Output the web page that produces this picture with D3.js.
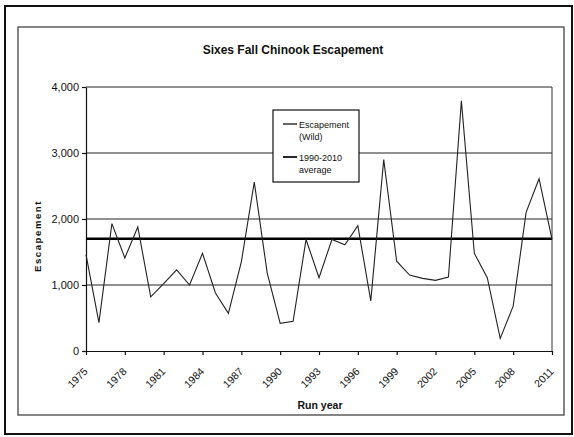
<!DOCTYPE html>
<html>
<head>
<meta charset="utf-8">
<script src="https://cdn.jsdelivr.net/npm/d3@7"></script>
<style>
  body { margin: 0; background: #fff; }
  svg { display: block; font-family: "Liberation Sans", Arial, sans-serif; }
</style>
</head>
<body>
<script>
// values
var years = [1975, 1976, 1977, 1978, 1979, 1980, 1981, 1982, 1983, 1984, 1985, 1986, 1987,
             1988, 1989, 1990, 1991, 1992, 1993, 1994, 1995, 1996, 1997, 1998, 1999, 2000,
             2001, 2002, 2003, 2004, 2005, 2006, 2007, 2008, 2009, 2010, 2011];
var escapement = [1460, 430, 1930, 1410, 1880, 820, 1020, 1230, 1000, 1480, 880, 570, 1350,
                  2560, 1180, 420, 450, 1690, 1110, 1690, 1610, 1900, 760, 2900, 1360, 1150,
                  1100, 1070, 1120, 3790, 1480, 1110, 190, 680, 2100, 2610, 1690];
var averageValue = 1700;
var averageYears = [1975, 2011];
var yTicks = [0, 1000, 2000, 3000, 4000];
var xTicks = [1975, 1978, 1981, 1984, 1987, 1990, 1993, 1996, 1999, 2002, 2005, 2008, 2011];
var legendLabels = [["Escapement", "(Wild)"], ["1990-2010", "average"]];

var width = 574, height = 437;
var plot = {left: 86, right: 552, top: 87, bottom: 351};

var svg = d3.select("body")
    .append("svg")
    .attr("width", width)
    .attr("height", height);

// outer page frame and chart frame
svg.append("rect")
    .attr("x", 5).attr("y", 6)
    .attr("width", 567).attr("height", 428)
    .attr("fill", "none")
    .attr("stroke", "#111")
    .attr("stroke-width", 2);

svg.append("rect")
    .attr("x", 18).attr("y", 27)
    .attr("width", 546).attr("height", 388)
    .attr("fill", "none")
    .attr("stroke", "#444")
    .attr("stroke-width", 1.3);

var x = d3.scaleLinear()
    .domain([years[0], years[years.length - 1]])
    .range([plot.left, plot.right]);

var y = d3.scaleLinear()
    .domain([0, 4000])
    .range([plot.bottom, plot.top]);

// gridlines
svg.append("g")
    .selectAll("line")
    .data(yTicks.filter(function(d) { return d > 0; }))
    .enter()
    .append("line")
    .attr("x1", plot.left)
    .attr("x2", plot.right)
    .attr("y1", function(d) { return y(d); })
    .attr("y2", function(d) { return y(d); })
    .attr("stroke", "#222")
    .attr("stroke-width", 1);

// right edge of plot area
svg.append("line")
    .attr("x1", plot.right).attr("x2", plot.right)
    .attr("y1", plot.top).attr("y2", plot.bottom)
    .attr("stroke", "#333")
    .attr("stroke-width", 1);

var yAxis = svg.append("g")
    .attr("transform", "translate(" + plot.left + ",0)")
    .call(d3.axisLeft(y)
        .tickValues(yTicks)
        .tickFormat(d3.format(","))
        .tickSize(4)
        .tickSizeOuter(0));

yAxis.selectAll("text")
    .attr("font-size", 11)
    .attr("fill", "#111");

var xAxis = svg.append("g")
    .attr("transform", "translate(0," + plot.bottom + ")")
    .call(d3.axisBottom(x)
        .tickValues(xTicks)
        .tickFormat(d3.format("d"))
        .tickSize(4)
        .tickSizeOuter(0));

xAxis.selectAll("text")
    .attr("font-size", 10.5)
    .attr("fill", "#111")
    .attr("text-anchor", "end")
    .attr("dy", null)
    .attr("y", 0)
    .attr("transform", function(d) {
        return "translate(2,21) rotate(-45)";
    });

svg.selectAll(".domain, .tick line")
    .attr("stroke", "#111")
    .attr("stroke-width", 1.2);

// average line
svg.append("line")
    .attr("x1", x(averageYears[0]))
    .attr("x2", x(averageYears[1]))
    .attr("y1", y(averageValue))
    .attr("y2", y(averageValue))
    .attr("stroke", "#000")
    .attr("stroke-width", 2.5);

// escapement line
var line = d3.line()
    .x(function(d, i) { return x(years[i]); })
    .y(function(d) { return y(d); });

svg.append("path")
    .datum(escapement)
    .attr("d", line)
    .attr("fill", "none")
    .attr("stroke", "#222")
    .attr("stroke-width", 1.1);

// title + axis titles
svg.append("text")
    .attr("x", 293).attr("y", 54)
    .attr("text-anchor", "middle")
    .attr("font-size", 12)
    .attr("font-weight", "bold")
    .attr("fill", "#111")
    .text("Sixes Fall Chinook Escapement");

svg.append("text")
    .attr("x", 320).attr("y", 409)
    .attr("text-anchor", "middle")
    .attr("font-size", 10.5)
    .attr("font-weight", "bold")
    .attr("fill", "#111")
    .text("Run year");

svg.append("text")
    .attr("transform", "translate(41,236) rotate(-90)")
    .attr("text-anchor", "middle")
    .attr("font-size", 9.5)
    .attr("font-weight", "bold")
    .attr("letter-spacing", 1.6)
    .attr("fill", "#111")
    .text("Escapement");

// legend
var legend = svg.append("g");

legend.append("rect")
    .attr("x", 273).attr("y", 110)
    .attr("width", 86).attr("height", 72)
    .attr("fill", "#fff")
    .attr("stroke", "#111")
    .attr("stroke-width", 1.2);

var item = legend.selectAll(".item")
    .data(legendLabels)
    .enter()
    .append("g")
    .attr("class", "item")
    .attr("transform", function(d, i) {
        return "translate(283," + (124 + i * 33) + ")";
    });

item.append("line")
    .attr("x1", 0).attr("x2", 14)
    .attr("y1", 0).attr("y2", 0)
    .attr("stroke", "#111")
    .attr("stroke-width", function(d, i) { return i == 0 ? 1.3 : 1.8; });

item.append("text")
    .attr("x", 16).attr("y", 3.5)
    .attr("font-size", 9)
    .attr("fill", "#111")
    .text(function(d) { return d[0]; });

item.append("text")
    .attr("x", 16).attr("y", 16)
    .attr("font-size", 9)
    .attr("fill", "#111")
    .text(function(d) { return d[1]; });
</script>
</body>
</html>
